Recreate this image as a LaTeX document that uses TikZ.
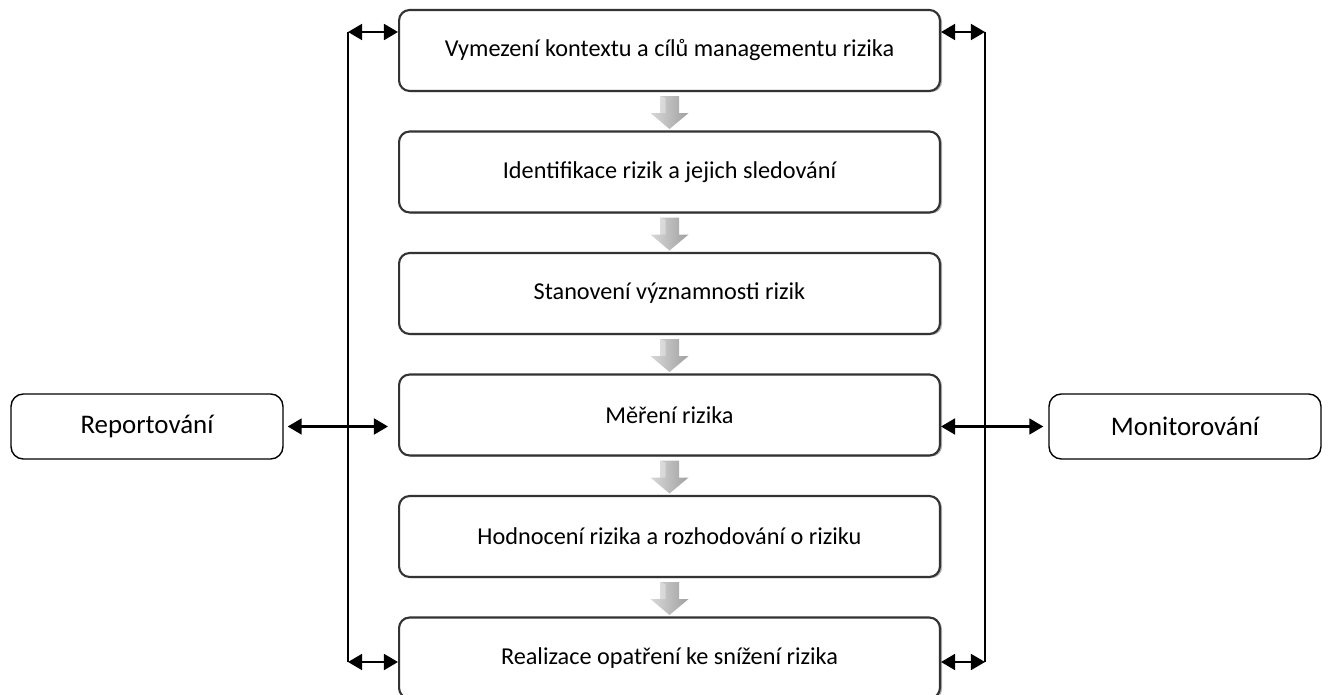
\documentclass[tikz,border=0pt]{standalone}
\usepackage{fontspec}
\setmainfont{Carlito}
\usetikzlibrary{arrows.meta,shadows}
\tikzset{
	krok/.style={draw=black!80, line width=1.2pt, rounded corners=6pt, fill=white,
		minimum width=10.82cm, minimum height=1.62cm, font=\fontsize{13.8}{16}\selectfont,
		drop shadow={shadow xshift=1.2pt, shadow yshift=-0.6pt, opacity=0.6}},
	bok/.style={draw, line width=0.8pt, rounded corners=7pt, fill=white,
		minimum width=5.44cm, minimum height=1.3cm, font=\fontsize{15.3}{18}\selectfont},
	obou/.style={{Triangle[length=8pt,width=9pt]}-{Triangle[length=8pt,width=9pt]}, line width=1.4pt},
	linka/.style={line width=1pt},
}
\begin{document}
\begin{tikzpicture}[x=0.02cm, y=-0.02cm]
	\useasboundingbox (0,0) rectangle (1328,695);
	% kroky procesu
	\node[krok] (b1) at (669.5,50.5) {Vymezení kontextu a cílů managementu rizika};
	\node[krok] (b2) at (669.5,172) {Identifikace rizik a jejich sledování};
	\node[krok] (b3) at (669.5,293.5) {Stanovení významnosti rizik};
	\node[krok] (b4) at (669.5,415) {Měření rizika};
	\node[krok] (b5) at (669.5,536.5) {Hodnocení rizika a rozhodování o riziku};
	\node[krok] (b6) at (669.5,658) {Realizace opatření ke snížení rizika};
	% šedé šipky mezi kroky
	\foreach \i in {1,...,5}{
		\begin{scope}[shift={(b\i.south)}]
			\shade[left color=gray!30, right color=gray!75]
				(-9.5,4) -- (9.5,4) -- (9.5,21) -- (19,21) -- (0,37) -- (-19,21) -- (-9.5,21) -- cycle;
			\fill[white, opacity=0.35] (-9.5,4) -- (-4,6) -- (-4,21) -- (-9.5,21) -- cycle;
		\end{scope}
	}
	% boční svislé čáry
	\coordinate (lt) at (348,32);
	\coordinate (lb) at (348,662);
	\coordinate (rt) at (985,32);
	\coordinate (rb) at (985,662);
	\draw[linka] (lt) -- (lb);
	\draw[linka] (rt) -- (rb);
	\draw[obou] (lt) -- (lt -| b1.west);
	\draw[obou] (lb) -- (lb -| b6.west);
	\draw[obou] (rt -| b1.east) -- (rt);
	\draw[obou] (rb -| b6.east) -- (rb);
	% reportování a monitorování
	\node[bok] (rep) at (147,426.5) {Reportování};
	\node[bok] (mon) at (1185,426.5) {Monitorování};
	\draw[obou, shorten <=0.08cm, shorten >=0.2cm] (rep.east) -- (rep.east -| b4.west);
	\draw[obou, shorten >=0.1cm] (b4.east |- mon.west) -- (mon.west);
\end{tikzpicture}
\end{document}
